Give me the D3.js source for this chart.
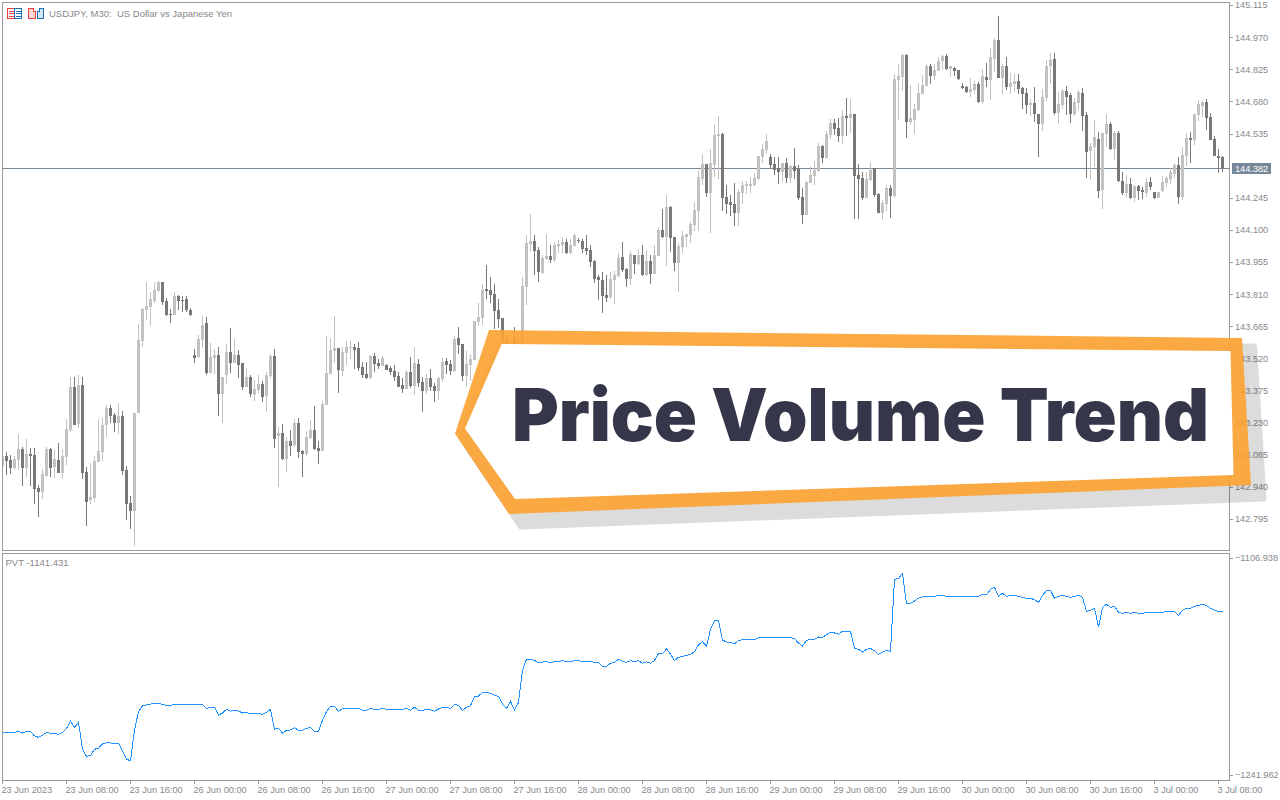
<!DOCTYPE html>
<html><head><meta charset="utf-8">
<script src="https://cdn.jsdelivr.net/npm/d3@7/dist/d3.min.js"></script>
<style>html,body{margin:0;padding:0;background:#fff;overflow:hidden}svg{display:block}
.lbl{font-family:"Liberation Sans",Arial,sans-serif;font-size:9.2px;fill:#88888c;white-space:pre}
.big{font-size:9.5px}</style>
</head><body><svg id="c" width="1280" height="800"></svg>
<script>
// Prices in points (1 point = 0.001 JPY), M30 bars
const opens=[143036,143081,143063,143027,143063,143113,143027,143090,143086,142937,
142919,142991,143113,143032,143063,143004,143077,143199,143393,143226,
143402,143009,142883,142892,143054,143099,143221,143298,143266,143230,
143262,143018,142869,142833,143275,143600,143740,143754,143781,143826,
143867,143781,143722,143718,143804,143786,143790,143740,143537,143528,
143605,143682,143456,143524,143537,143361,143447,143551,143501,143537,
143501,143393,143438,143357,143379,143406,143352,143442,143533,143171,
143185,143068,143149,143131,143230,143104,143090,143162,143199,143117,
143104,143311,143451,143555,143569,143465,143546,143569,143573,143569,
143483,143451,143433,143533,143501,143488,143492,143478,143465,143442,
143402,143384,143460,143397,143497,143415,143375,143433,143397,143375,
143429,143510,143497,143465,143614,143587,143442,143492,143515,143686,
143704,143835,143831,143813,143740,143705,143605,143545,143620,143590,
143540,143844,144038,144051,144011,143907,143970,143984,143966,144029,
144033,144047,143997,144029,144056,144051,144020,144011,143961,143889,
143875,143808,143799,143875,143893,143979,143925,143880,143988,143948,
143988,143898,143961,143902,143984,144101,144069,144205,144069,143952,
144024,144069,144078,144124,144187,144331,144399,144268,144395,144525,
144534,144250,144227,144218,144178,144268,144300,144300,144304,144331,
144431,144463,144431,144400,144381,144363,144404,144336,144390,144381,
144251,144169,144314,144345,144368,144481,144427,144530,144585,144562,
144526,144616,144607,144625,144350,144336,144246,144327,144381,144264,
144178,144219,144291,144255,144779,144792,144892,144589,144598,144643,
144716,144752,144842,144797,144819,144865,144887,144828,144833,144824,
144752,144747,144725,144734,144761,144679,144792,144779,144874,144959,
144788,144842,144747,144761,144774,144743,144720,144666,144675,144625,
144580,144698,144842,144874,144630,144666,144729,144711,144625,144675,
144720,144621,144458,144476,144512,144282,144535,144580,144467,144540,
144323,144269,144309,144246,144300,144282,144269,144318,144273,144246,
144278,144314,144332,144354,144395,144251,144436,144517,144508,144621,
144661,144679,144612,144512,144436,144431];
const highs=[143081,143101,143086,143081,143180,143122,143158,143117,143117,142950,
143022,143123,143117,143108,143140,143113,143248,143438,143438,143447,
143438,143032,143050,143081,143248,143253,143311,143311,143275,143320,
143284,143036,142901,143275,143677,143749,143867,143822,143867,143871,
143867,143795,143745,143822,143808,143804,143804,143749,143564,143628,
143713,143709,143591,143564,143573,143438,143587,143659,143609,143560,
143501,143479,143447,143424,143447,143420,143460,143542,143564,143212,
143226,143167,143199,143248,143253,143108,143194,143244,143307,143149,
143329,143623,143614,143713,143569,143573,143600,143600,143587,143596,
143506,143506,143537,143546,143519,143533,143497,143488,143492,143460,
143433,143469,143528,143573,143519,143438,143451,143474,143411,143438,
143524,143524,143515,143623,143664,143587,143555,143542,143691,143772,
143858,143944,143889,143858,143790,143705,143628,143628,143663,143620,
143889,144078,144173,144078,144024,143988,144083,144033,144047,144056,
144069,144060,144060,144083,144065,144060,144078,144033,143966,143898,
143911,143898,143911,143916,143997,144047,143929,144006,143988,144015,
144033,144011,143988,144033,144115,144196,144259,144209,144069,144042,
144096,144083,144137,144227,144372,144444,144399,144467,144580,144616,
144539,144304,144259,144313,144286,144322,144322,144340,144358,144435,
144490,144535,144445,144431,144431,144404,144427,144395,144472,144395,
144291,144323,144386,144413,144494,144485,144549,144603,144603,144607,
144643,144698,144693,144625,144400,144363,144363,144409,144381,144269,
144237,144305,144305,144806,144851,144896,144896,144756,144670,144765,
144801,144851,144851,144851,144883,144892,144896,144842,144837,144824,
144765,144752,144788,144774,144770,144828,144856,144923,144968,145068,
144851,144883,144810,144806,144806,144747,144743,144693,144747,144625,
144738,144869,144901,144901,144725,144738,144752,144720,144698,144734,
144743,144634,144494,144598,144544,144540,144625,144589,144549,144549,
144363,144350,144336,144305,144305,144296,144336,144341,144273,144273,
144345,144345,144381,144404,144431,144476,144540,144544,144625,144689,
144689,144693,144630,144526,144467,144436];
const lows=[143036,142995,143000,143018,143018,142946,142988,142946,142865,142806,
142887,142988,142985,142982,143004,142977,143041,143190,143221,143208,
142977,142765,142865,142874,143054,143059,143167,143230,143190,143180,
142995,142792,142752,142675,143275,143573,143695,143668,143772,143822,
143763,143713,143682,143718,143740,143731,143731,143713,143501,143524,
143569,143447,143456,143451,143262,143230,143406,143456,143501,143433,
143379,143393,143348,143330,143366,143325,143280,143433,143117,142941,
143063,143009,143081,143122,143072,142988,143081,143158,143108,143045,
143104,143311,143451,143501,143366,143442,143492,143519,143474,143465,
143433,143429,143429,143460,143474,143488,143469,143447,143420,143393,
143366,143384,143388,143357,143393,143280,143361,143375,143325,143334,
143415,143451,143447,143460,143542,143420,143393,143420,143515,143668,
143673,143790,143772,143655,143659,143583,143520,143500,143520,143510,
143518,143762,144002,143898,143866,143902,143966,143952,143957,143997,
143993,143993,143993,144029,144042,143997,143988,143934,143862,143785,
143726,143776,143790,143767,143889,143911,143844,143853,143902,143943,
143893,143893,143857,143902,143984,144065,143939,144002,143916,143821,
143997,144024,144042,144096,144096,144304,144250,144088,144340,144331,
144187,144173,144164,144119,144119,144218,144264,144268,144300,144327,
144404,144445,144381,144350,144309,144318,144314,144314,144332,144237,
144129,144169,144314,144305,144363,144404,144422,144512,144530,144499,
144490,144526,144540,144151,144151,144237,144246,144323,144251,144178,
144147,144187,144156,144246,144598,144729,144517,144576,144535,144639,
144716,144752,144761,144779,144819,144824,144824,144792,144797,144779,
144738,144720,144702,144716,144675,144670,144747,144689,144815,144788,
144711,144734,144716,144725,144716,144648,144625,144616,144589,144431,
144549,144684,144761,144621,144580,144648,144621,144585,144616,144643,
144549,144336,144327,144386,144246,144196,144476,144463,144418,144318,
144260,144251,144242,144228,144237,144242,144251,144282,144242,144246,
144273,144296,144309,144336,144219,144237,144390,144404,144485,144594,
144612,144553,144508,144436,144359,144363];
const closes=[143081,143059,143027,143068,143113,143027,143090,143081,142932,142919,
143000,143113,143027,143068,143004,143081,143203,143393,143221,143402,
143004,142874,142896,143059,143104,143221,143298,143262,143230,143262,
143013,142865,142833,143275,143605,143745,143758,143790,143831,143867,
143777,143718,143718,143804,143781,143781,143740,143718,143524,143609,
143673,143456,143528,143537,143361,143438,143551,143501,143537,143492,
143393,143438,143361,143384,143406,143348,143447,143533,143158,143185,
143068,143149,143126,143230,143099,143090,143167,143199,143113,143104,
143316,143456,143560,143569,143469,143551,143573,143573,143560,143478,
143447,143433,143533,143497,143488,143524,143469,143460,143438,143393,
143384,143460,143397,143501,143411,143375,143433,143393,143375,143433,
143506,143492,143465,143609,143582,143442,143497,143519,143691,143709,
143831,143826,143808,143736,143700,143605,143560,143590,143560,143550,
143848,144042,144051,144006,143911,143975,143984,143966,144033,144038,
144047,143997,144033,144078,144051,144015,144006,143957,143880,143875,
143803,143794,143880,143898,143975,143920,143880,143993,143948,143988,
143898,143961,143902,143988,144101,144069,144205,144065,143952,144029,
144074,144083,144128,144191,144340,144399,144268,144404,144530,144534,
144246,144218,144214,144178,144273,144304,144309,144309,144336,144435,
144467,144503,144395,144372,144363,144404,144336,144390,144368,144246,
144169,144318,144350,144372,144481,144427,144535,144585,144558,144526,
144616,144607,144625,144345,144332,144246,144332,144372,144260,144178,
144223,144291,144255,144783,144797,144892,144589,144607,144648,144720,
144756,144842,144797,144824,144865,144887,144828,144842,144819,144783,
144743,144725,144738,144761,144679,144797,144779,144883,144959,144788,
144842,144747,144765,144774,144738,144716,144666,144675,144625,144580,
144702,144842,144869,144630,144670,144729,144702,144625,144679,144725,
144616,144454,144481,144521,144278,144540,144580,144467,144540,144323,
144269,144309,144246,144300,144278,144273,144318,144296,144246,144273,
144318,144336,144363,144395,144251,144440,144517,144508,144625,144670,
144679,144607,144508,144436,144427,144382];
const pvtValues=[-1215.4,-1215.4,-1215.4,-1215.4,-1214.7,-1215.8,-1214.7,-1214.7,-1217.6,-1218.5,
-1217.2,-1215.4,-1216.0,-1216.0,-1216.6,-1215.4,-1212.9,-1208.5,-1212.2,-1209.1,
-1225.8,-1230.3,-1229.9,-1225.9,-1225.3,-1222.6,-1222.0,-1222.0,-1222.6,-1222.2,
-1227.2,-1232.2,-1233.0,-1213.9,-1202.5,-1198.9,-1198.3,-1197.7,-1197.3,-1197.3,
-1197.9,-1198.5,-1198.5,-1197.9,-1197.9,-1197.9,-1198.3,-1198.3,-1198.3,-1198.3,
-1197.9,-1200.4,-1199.6,-1199.6,-1204.6,-1203.3,-1201.0,-1202.1,-1201.6,-1202.1,
-1203.3,-1202.9,-1203.9,-1203.5,-1203.5,-1204.1,-1202.9,-1201.0,-1213.3,-1212.9,
-1215.8,-1214.1,-1213.9,-1212.5,-1214.1,-1214.1,-1212.9,-1212.2,-1214.7,-1214.7,
-1207.7,-1202.3,-1199.1,-1199.1,-1202.3,-1200.6,-1200.4,-1200.4,-1200.4,-1200.4,
-1201.6,-1201.6,-1200.4,-1201.0,-1201.0,-1200.4,-1201.0,-1201.0,-1201.0,-1201.0,
-1201.0,-1200.4,-1201.6,-1199.8,-1201.6,-1201.6,-1201.0,-1201.4,-1202.1,-1200.8,
-1199.8,-1199.8,-1200.4,-1197.9,-1198.5,-1201.6,-1199.8,-1198.7,-1193.3,-1192.7,
-1190.6,-1190.6,-1191.0,-1192.3,-1192.9,-1197.9,-1200.4,-1196.0,-1201.6,-1196.7,
-1176.5,-1169.8,-1169.8,-1170.5,-1172.1,-1171.5,-1171.3,-1171.7,-1171.3,-1171.1,
-1170.7,-1171.3,-1171.1,-1170.7,-1170.7,-1171.1,-1171.1,-1171.1,-1171.7,-1171.9,
-1174.2,-1174.2,-1172.3,-1171.7,-1169.8,-1171.1,-1171.7,-1170.7,-1171.1,-1170.7,
-1172.3,-1171.3,-1172.3,-1170.5,-1166.3,-1166.5,-1163.2,-1166.7,-1170.5,-1168.6,
-1168.0,-1167.3,-1166.7,-1165.0,-1160.7,-1158.8,-1161.7,-1151.1,-1145.7,-1145.7,
-1157.8,-1159.0,-1159.4,-1160.1,-1158.2,-1157.4,-1157.4,-1157.4,-1157.4,-1156.5,
-1156.1,-1156.1,-1156.1,-1156.1,-1156.1,-1156.1,-1156.5,-1156.3,-1156.9,-1159.6,
-1161.5,-1158.0,-1157.4,-1157.4,-1155.9,-1156.1,-1154.4,-1153.0,-1153.4,-1154.2,
-1152.4,-1152.4,-1152.4,-1162.8,-1163.6,-1165.3,-1163.6,-1163.0,-1164.4,-1166.7,
-1165.3,-1164.2,-1164.8,-1119.9,-1119.3,-1116.2,-1135.3,-1134.9,-1133.4,-1131.6,
-1130.9,-1130.5,-1130.5,-1130.5,-1129.9,-1129.9,-1130.5,-1130.5,-1130.5,-1130.5,
-1130.5,-1130.5,-1130.5,-1130.5,-1130.5,-1129.3,-1129.7,-1126.2,-1124.9,-1130.5,
-1128.7,-1130.5,-1129.9,-1129.9,-1130.5,-1131.2,-1131.8,-1131.8,-1132.6,-1134.3,
-1129.9,-1127.0,-1126.8,-1131.8,-1130.5,-1129.9,-1130.5,-1131.2,-1130.5,-1129.9,
-1131.2,-1139.9,-1139.3,-1138.0,-1149.7,-1137.4,-1135.5,-1137.4,-1136.8,-1140.5,
-1141.1,-1140.5,-1141.1,-1140.5,-1141.1,-1141.1,-1140.5,-1140.5,-1140.5,-1140.5,
-1140.5,-1139.9,-1139.9,-1139.9,-1142.4,-1139.3,-1138.0,-1138.0,-1136.8,-1136.2,
-1135.5,-1136.2,-1138.0,-1139.3,-1139.9,-1139.9];
const priceTicks=[145.115,144.970,144.825,144.680,144.535,144.245,144.100,143.955,143.810,143.665,143.520,143.375,143.230,143.085,142.940,142.795];
const currentPrice=144.382;
const pvtTicks=[-1106.938,-1241.962];
const timeTickBars=[0,16,32,48,64,80,96,112,128,144,160,176,192,208,224,240,256,272,288,304];
const timeLabels=["23 Jun 2023","23 Jun 08:00","23 Jun 16:00","26 Jun 00:00","26 Jun 08:00","26 Jun 16:00","27 Jun 00:00","27 Jun 08:00","27 Jun 16:00","28 Jun 00:00","28 Jun 08:00","28 Jun 16:00","29 Jun 00:00","29 Jun 08:00","29 Jun 16:00","30 Jun 00:00","30 Jun 08:00","30 Jun 16:00","3 Jul 00:00","3 Jul 08:00"];
const titleText="USDJPY, M30:  US Dollar vs Japanese Yen";
const pvtLabel="PVT -1141.431";
const bannerText="Price Volume Trend";

const FRAME="#9a9aa0",UP="#c2c2c2",DOWN="#787878",LINE="#1e90ff",PRICE="#778899";
const svg=d3.select("#c");
const x=d3.scaleLinear().domain([0,305]).range([2,1222]);
const y=d3.scaleLinear().domain([145.115,142.795]).range([5,519]);
const yP=d3.scaleLinear().domain([-1106.938,-1241.962]).range([558,774.5]);
const defs=svg.append("defs");
defs.append("clipPath").attr("id","cp").append("rect").attr("x",3).attr("y",3).attr("width",1226).attr("height",547);

// current price line (behind candles)
svg.append("rect").attr("x",3).attr("width",1226).attr("y",Math.ceil(y(currentPrice))).attr("height",1).attr("fill",PRICE);

// candles
const bars=d3.range(opens.length).map(i=>({i,o:opens[i]/1000,h:highs[i]/1000,l:lows[i]/1000,c:closes[i]/1000}));
const gc=svg.append("g").attr("clip-path","url(#cp)").attr("shape-rendering","crispEdges");
const py=v=>Math.round(y(v)+0.5);
gc.selectAll("rect.w").data(bars).join("rect").attr("class","w")
 .attr("x",d=>x(d.i)).attr("width",1).attr("y",d=>py(d.h)).attr("height",d=>Math.max(1,py(d.l)-py(d.h)))
 .attr("fill",d=>d.c>=d.o?UP:DOWN);
gc.selectAll("rect.b").data(bars).join("rect").attr("class","b")
 .attr("x",d=>x(d.i)-1).attr("width",3).attr("y",d=>py(Math.max(d.o,d.c))).attr("height",d=>Math.max(1,py(Math.min(d.o,d.c))-py(Math.max(d.o,d.c))))
 .attr("fill",d=>d.c>=d.o?UP:DOWN);

// PVT line
svg.append("path").datum(pvtValues).attr("fill","none").attr("stroke",LINE).attr("stroke-width",1).attr("shape-rendering","crispEdges")
 .attr("d",d3.line().x((d,i)=>x(i)+0.5).y(d=>yP(d)+0.5));

// frames
const fr=svg.append("g").attr("fill","none").attr("stroke",FRAME).attr("shape-rendering","crispEdges");
fr.append("rect").attr("x",2.5).attr("y",2.5).attr("width",1227).attr("height",548);
fr.append("rect").attr("x",2.5).attr("y",553.5).attr("width",1227).attr("height",227);

// axes
function styleAxis(g){g.select(".domain").remove();g.selectAll("line").attr("stroke",FRAME).attr("shape-rendering","crispEdges");
 g.selectAll("text").attr("class","lbl").attr("fill",null);}
const ay=svg.append("g").attr("transform","translate(1230,0)").call(d3.axisRight(y).tickValues(priceTicks).tickSize(3).tickPadding(2).tickFormat(d3.format(".3f")));
styleAxis(ay);
const ap=svg.append("g").attr("transform","translate(1230,0)").call(d3.axisRight(yP).tickValues(pvtTicks).tickSize(3).tickPadding(2).tickFormat(d3.format(".3f")));
styleAxis(ap);
const at=svg.append("g").attr("transform","translate(0,781)").call(d3.axisBottom(x).tickValues(timeTickBars).tickSize(3).tickPadding(2).tickFormat((d,i)=>timeLabels[i]));
styleAxis(at);
at.selectAll("text").attr("text-anchor","start").attr("dx",-1);

// current price tag
svg.append("rect").attr("x",1232).attr("y",163).attr("width",39).attr("height",11).attr("fill",PRICE);
svg.append("text").attr("x",1235).attr("y",172).attr("font-family","Liberation Sans").attr("font-size","9.2px").attr("fill","#fff").text(d3.format(".3f")(currentPrice));

// title and icons
svg.append("text").attr("class","lbl big").attr("x",49).attr("y",17).text(titleText);
svg.append("text").attr("class","lbl big").attr("x",5.5).attr("y",566).text(pvtLabel);
const ic=svg.append("g").attr("shape-rendering","crispEdges").attr("fill","none");
ic.append("rect").attr("x",7.5).attr("y",8.5).attr("width",7).attr("height",10).attr("stroke","#e5403a");
ic.append("rect").attr("x",14.5).attr("y",8.5).attr("width",7).attr("height",10).attr("stroke","#1b6fb5");
[11,13.5,16].forEach(v=>{ic.append("line").attr("x1",9).attr("x2",14).attr("y1",v).attr("y2",v).attr("stroke","#e5403a");
 ic.append("line").attr("x1",16).attr("x2",21).attr("y1",v).attr("y2",v).attr("stroke","#1b6fb5");});
ic.append("path").attr("d","M28.5 8.5H33.5V11.5H35.5V18.5H28.5Z").attr("fill","#fbd9d5").attr("stroke","#e5403a");
ic.append("path").attr("d","M37.5 18.5V11.5H39.5V8.5H43.5V18.5Z").attr("fill","#cfe6f7").attr("stroke","#1b6fb5");

// banner
svg.append("g").attr("opacity",0.135).append("polygon").attr("points","498,345 461,438 521,526.5 1263.5,498.5 1254,346.5")
 .attr("fill","#000").attr("stroke","#000").attr("stroke-width",6).attr("stroke-linejoin","round");
svg.append("polygon").attr("points","489,330 455,433.5 509,514 1251,485 1242,338")
 .attr("fill","#fba436").attr("fill-opacity",0.93);
svg.append("polygon").attr("points","501.7,344 465,428.5 515,499 1233.5,475 1230.5,351").attr("fill","#fff");
svg.append("text").attr("x",512).attr("y",441).attr("font-family","Inter").attr("font-weight",900).attr("font-size","73px")
 .attr("fill","#35364a").attr("textLength",697).attr("lengthAdjust","spacingAndGlyphs").text(bannerText);
</script></body></html>
